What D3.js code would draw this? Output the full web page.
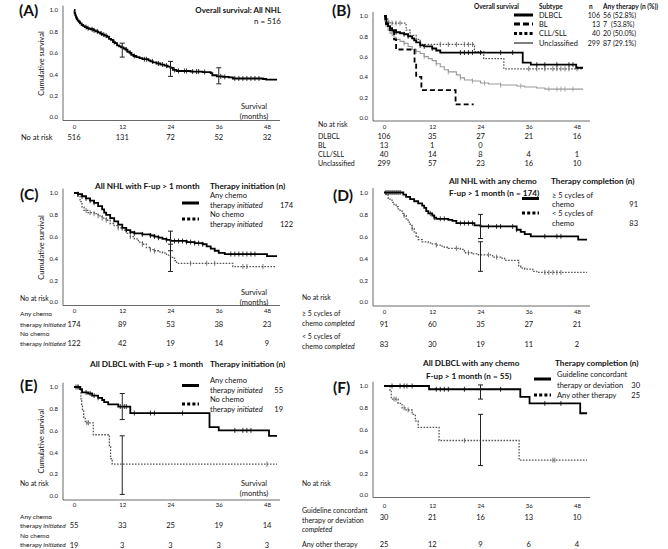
<!DOCTYPE html>
<html><head><meta charset="utf-8">
<script src="https://cdn.jsdelivr.net/npm/d3@7"></script>
<style>body{margin:0;background:#fff} text{font-family:Lato,"Open Sans",sans-serif;fill:#111}</style>
</head><body><svg id="c" width="668" height="549"></svg>
<script>
// ---------- data ----------
const months = [0,12,24,36,48];
const yTicks = [0,0.2,0.4,0.6,0.8,1.0];

// (A) All NHL
const survA = [[0,1],[0.15,0.97],[0.3,0.95],[0.5,0.93],[0.7,0.915],[0.9,0.9],[1.2,0.89],[1.5,0.875],[1.9,0.86],[2.3,0.85],[2.7,0.84],[3.2,0.83],[3.7,0.825],[4.2,0.82],[4.8,0.81],[5.4,0.80],[6,0.79],[6.5,0.78],[7,0.77],[7.6,0.76],[8.2,0.75],[8.7,0.73],[9.2,0.72],[9.7,0.70],[10.2,0.69],[10.7,0.67],[11.2,0.66],[11.7,0.65],[12.3,0.64],[12.8,0.63],[13.3,0.61],[13.8,0.60],[14.3,0.58],[14.8,0.57],[15.5,0.56],[16.3,0.55],[17,0.54],[18.5,0.53],[19,0.52],[19.6,0.51],[20.5,0.50],[21.5,0.49],[22.5,0.48],[23.3,0.47],[24,0.46],[24.6,0.44],[25.5,0.43],[29,0.425],[32,0.42],[34,0.41],[34.4,0.39],[35.5,0.38],[37,0.375],[38.5,0.37],[39.5,0.36],[47,0.355],[47.8,0.35],[50.5,0.35]];
const censA = [3,3.5,4.5,5,5.8,6.8,7.4,8,10,13,14,15,17.5,18,19.5,21,22,23,25,26,27.5,28,29.5,30.5,31,32.5,36.5,37.5,40,41,42,43,44,45,46];
const errA = [[12,0.56,0.69],[24,0.38,0.52],[36,0.31,0.46]];
const riskA = [516,131,72,52,32];

// (B) by subtype
const subtypes = ["DLBCL","BL","CLL/SLL","Unclassified"];
const subtypeN = [106,13,40,299];
const subtypeTherapy = ["56 (52.8%)","7\u2007(53.8%)","20 (50.0%)","87 (29.1%)"];
const survB_dlbcl = [[0,1],[0.3,0.97],[0.6,0.93],[1,0.90],[1.5,0.88],[2,0.86],[3,0.84],[4,0.83],[5,0.82],[6,0.80],[7,0.78],[7.5,0.76],[8,0.74],[9,0.71],[10,0.70],[12,0.68],[13,0.66],[14,0.64],[34.5,0.54],[36.5,0.52],[47.8,0.49],[49.5,0.49]];
const censB_dlbcl = [2,3,5,6,9,10,12,19,20,21,22,24,29,32,38,40,43,46,47];
const survB_bl = [[0,1],[0.5,0.92],[1.5,0.85],[2.5,0.77],[3,0.67],[7.6,0.53],[8,0.40],[9.3,0.27],[17.8,0.13],[22.3,0.13]];
const censB_bl = [];
const survB_cll = [[0,1],[0.5,0.97],[1,0.95],[1.5,0.93],[5.5,0.86],[6.5,0.81],[8,0.77],[9,0.72],[22.5,0.65],[24.8,0.58],[29.8,0.48],[49.5,0.48]];
const censB_cll = [2,3,4,14,16,18,20,21,22,36,38,40,42,43,44,45,46,48];
const survB_unc = [[0,1],[0.2,0.95],[0.5,0.90],[1,0.86],[1.5,0.83],[2,0.81],[2.5,0.79],[3,0.77],[4,0.75],[5,0.73],[6,0.70],[7,0.67],[8,0.65],[9,0.63],[10,0.60],[11,0.58],[12,0.56],[13,0.53],[14,0.50],[15,0.47],[16,0.45],[18,0.42],[19,0.39],[20,0.37],[22,0.36],[24,0.34],[26,0.33],[29,0.32],[33,0.31],[35,0.30],[38,0.29],[40,0.28],[49.5,0.28]];
const censB_unc = [5,8,10,13,16,19,22,25,29,34,41,43,44,45,47];
const riskB = [[106,35,27,21,16],[13,1,0],[40,14,8,4,1],[299,57,23,16,10]];

// (C) all NHL, therapy initiation
const survC_chemo = [[0,1],[1,0.99],[2,0.97],[3,0.95],[4,0.93],[5,0.91],[6,0.88],[7,0.85],[7.5,0.82],[8,0.80],[9,0.77],[10,0.74],[11,0.71],[12,0.68],[13,0.66],[14,0.64],[15,0.63],[17,0.62],[19,0.61],[20,0.60],[21,0.59],[22,0.58],[23,0.57],[24,0.56],[28,0.55],[30,0.54],[32,0.53],[33,0.51],[34,0.49],[35,0.47],[36,0.45],[37.5,0.44],[48,0.42],[50.5,0.42]];
const censC_chemo = [1,2,3,4,5,13,15,17,19,20,21,23,25,26,27,28,29,30,31,32,39,40,41,42,43,44,45];
const survC_none = [[0,1],[1,0.97],[1.5,0.92],[2,0.87],[2.5,0.84],[3.5,0.82],[5,0.81],[6,0.79],[7,0.77],[8,0.75],[9,0.72],[10,0.70],[11,0.68],[12,0.66],[13,0.63],[14,0.60],[15,0.58],[16,0.55],[17,0.53],[18,0.50],[19,0.48],[20,0.47],[21,0.46],[22,0.45],[23,0.43],[24,0.41],[25,0.38],[25.5,0.355],[39.5,0.325],[50,0.325]];
const censC_none = [3,4,5,6,7,8,11,14,17,19,20,29,33,35,42,43,47];
const errC = [[24,0.47,0.65],[24,0.28,0.53]];
const riskC = [[174,89,53,38,23],[122,42,19,14,9]];
const nC = [174,122];

// (D) all NHL with chemo, completion
const survD_ge5 = [[0,1],[4.8,0.98],[5.5,0.96],[6.5,0.94],[7.5,0.92],[8.5,0.90],[9.5,0.88],[10,0.86],[10.5,0.83],[11,0.81],[12,0.79],[12.5,0.77],[13,0.76],[16,0.75],[17,0.74],[18,0.72],[22.5,0.70],[24,0.69],[33,0.66],[34,0.64],[35,0.62],[36.5,0.60],[48.3,0.57],[50.5,0.57]];
const censD_ge5 = [0.5,1,1.5,2,2.5,3,3.5,4,11.5,12.5,14,15,19,20,21,22,26,28,29,32,33,40,43,44];
const survD_lt5 = [[0,1],[0.5,0.98],[1,0.95],[1.5,0.93],[2,0.91],[2.5,0.89],[3,0.87],[3.5,0.85],[4,0.83],[4.5,0.81],[5,0.79],[5.5,0.76],[6,0.73],[6.5,0.70],[7,0.67],[7.5,0.64],[8,0.60],[8.5,0.57],[9.5,0.55],[11,0.54],[12,0.53],[13,0.52],[14,0.51],[15,0.50],[16,0.49],[19,0.48],[20,0.45],[22,0.44],[23.5,0.43],[27,0.41],[29,0.40],[30,0.38],[33.5,0.33],[34,0.31],[35,0.30],[37,0.28],[38,0.27],[50.5,0.27]];
const censD_lt5 = [5,7,13,18,21,24,26,28,40,41,42,43,44];
const errD = [[24,0.58,0.80],[24,0.28,0.55]];
const riskD = [[91,60,35,27,21],[83,30,19,11,2]];
const nD = [91,83];

// (E) DLBCL, therapy initiation
const survE_chemo = [[0,1],[1.5,0.98],[2,0.95],[3.5,0.94],[4.5,0.92],[6,0.90],[7,0.88],[7.5,0.86],[8.5,0.84],[11,0.82],[14,0.76],[33.7,0.63],[36,0.60],[48.5,0.55],[50.5,0.55]];
const censE_chemo = [0.5,1,3,4,5,6,11.5,12.5,13,15,19,20,27,40,42,43,44];
const survE_none = [[0,1],[1.7,0.89],[1.9,0.83],[2.1,0.78],[2.4,0.72],[2.8,0.67],[4.8,0.56],[8.8,0.45],[9.1,0.34],[9.5,0.29],[50.5,0.29]];
const censE_none = [1,3.2,3.6,48];
const errE = [[12,0.70,0.94],[12,0.01,0.55]];
const riskE = [[55,33,25,19,14],[19,3,3,3,3]];
const nE = [55,19];

// (F) DLBCL with chemo, completion
const survF_gl = [[0,1],[11.2,0.97],[33.9,0.90],[36.2,0.84],[48.8,0.75],[50.5,0.75]];
const censF_gl = [2,4,5,5.7,7,13,14,15,16,20,29,40,44];
const survF_oth = [[0,1],[1.5,0.96],[1.8,0.88],[3.5,0.84],[4.5,0.80],[5.5,0.78],[7,0.74],[7.8,0.68],[8.5,0.62],[13.7,0.50],[33.6,0.32],[50.5,0.32]];
const censF_oth = [2.5,3,5,6,20,42,42.5];
const errF = [[24,0.88,1.01],[24,0.27,0.74]];
const riskF = [[30,21,16,13,10],[25,12,9,6,4]];
const nF = [30,25];

// ---------- drawing ----------
const svg = d3.select("#c");
const STY = {
  solid:{stroke:"#000",w:1.8,dash:null},
  dash:{stroke:"#000",w:1.8,dash:"5,3"},
  dot:{stroke:"#555",w:1.3,dash:"1.6,1.4"},
  thin:{stroke:"#999",w:1.1,dash:null}
};
const LEG = {
  solid:{stroke:"#000",w:3,dash:null},
  dash:{stroke:"#000",w:3,dash:"6,3"},
  dot:{stroke:"#000",w:3,dash:"3,2.2"},
  thin:{stroke:"#000",w:1,dash:null}
};
const TB = 8.2; // bold title size
function stepAt(data,t){let v=data[0][1];for(const d of data){if(d[0]<=t)v=d[1];}return v;}

function txt(x,y,parts,o={}){
  const t=svg.append("text").attr("x",x).attr("y",y)
    .attr("font-size",o.size||7.5).attr("text-anchor",o.anchor||"start")
    .attr("font-weight",o.bold?"bold":"normal");
  if(typeof parts==="string")parts=[[parts,false]];
  parts.forEach(p=>t.append("tspan").attr("font-style",p[1]?"italic":"normal").text(p[0]));
  return t;
}
function legLine(x1,x2,y,type){
  const s=LEG[type];
  svg.append("line").attr("x1",x1).attr("x2",x2).attr("y1",y).attr("y2",y)
    .attr("stroke",s.stroke).attr("stroke-width",s.w).attr("stroke-dasharray",s.dash);
}

function panel(p){
  const x=d3.scaleLinear().domain([0,48]).range([p.x0,p.x48]);
  const y=d3.scaleLinear().domain([0,1]).range([p.y0,p.y1]);
  const g=svg.append("g");
  g.append("line").attr("x1",p.ax).attr("x2",p.ax).attr("y1",y(1.04)).attr("y2",p.ab).attr("stroke","#444").attr("stroke-width",0.8);
  g.append("line").attr("x1",p.ax).attr("x2",p.ar).attr("y1",p.ab).attr("y2",p.ab).attr("stroke","#444").attr("stroke-width",0.8);
  const ya=g.append("g").attr("transform",`translate(${p.ax},0)`)
    .call(d3.axisLeft(y).tickValues(yTicks).tickSize(0).tickPadding(5).tickFormat(d3.format(".1f")));
  ya.select(".domain").remove();
  ya.attr("font-size",6).attr("font-family","Lato,sans-serif");
  const xa=g.append("g").attr("transform",`translate(0,${p.y0})`)
    .call(d3.axisBottom(x).tickValues(months).tickSize(0).tickPadding(p.tp).tickFormat(d3.format("d")));
  xa.select(".domain").remove();
  xa.attr("font-size",6).attr("font-family","Lato,sans-serif");
  const line=d3.line().x(d=>x(d[0])).y(d=>y(d[1])).curve(d3.curveStepAfter);
  p.series.forEach(s=>{
    const st=STY[s.type];
    g.append("path").attr("d",line(s.data)).attr("fill","none").attr("stroke",st.stroke)
      .attr("stroke-width",st.w).attr("stroke-dasharray",st.dash);
    s.cens.forEach(t=>{
      const v=stepAt(s.data,t);
      g.append("line").attr("x1",x(t)).attr("x2",x(t)).attr("y1",y(v)-2.5).attr("y2",y(v)+2.5)
        .attr("stroke",st.stroke).attr("stroke-width",0.8);
    });
  });
  (p.err||[]).forEach(e=>{
    const c="#222";
    g.append("line").attr("x1",x(e[0])).attr("x2",x(e[0])).attr("y1",y(e[1])).attr("y2",y(e[2])).attr("stroke",c).attr("stroke-width",1);
    [e[1],e[2]].forEach(v=>g.append("line").attr("x1",x(e[0])-2.5).attr("x2",x(e[0])+2.5).attr("y1",y(v)).attr("y2",y(v)).attr("stroke",c).attr("stroke-width",1));
  });
  if(p.ylab){
    svg.append("text").attr("transform",`translate(44,${y(0.5)}) rotate(-90)`).attr("text-anchor","middle")
      .attr("font-size",7.5).text("Cumulative survival");
  }
  if(p.months){
    txt(254,p.months,"Survival",{anchor:"middle"});
    txt(254,p.months+10.5,"(months)",{anchor:"middle"});
  }
  (p.risk||[]).forEach((r,i)=>{
    r.forEach((v,j)=>txt(x(months[j]),p.riskY[i],String(v),{anchor:"middle"}));
  });
  return {x,y};
}

// letters
[["(A)",19,15.5],["(B)",332,15.5],["(C)",20,200],["(D)",333,201],["(E)",20,391],["(F)",333,393]]
  .forEach(l=>txt(l[1],l[2],l[0],{size:15.5,bold:true}));

// ---- A ----
panel({x0:74,x48:267,y0:117,y1:10,ax:63,ab:120.5,ar:280,tp:8,ylab:true,months:108.5,
  series:[{data:survA,cens:censA,type:"solid"}],err:errA,risk:[riskA],riskY:[140]});
txt(281,12.5,"Overall survival: All NHL",{anchor:"end",bold:true,size:7.9});
txt(281,23.5,"n = 516",{anchor:"end",size:8});
txt(21,140,"No at risk");

// ---- B ----
panel({x0:384,x48:577,y0:117.5,y1:16,ax:373,ab:121,ar:590,tp:7.5,
  series:[{data:survB_unc,cens:censB_unc,type:"thin"},{data:survB_cll,cens:censB_cll,type:"dot"},
          {data:survB_bl,cens:censB_bl,type:"dash"},{data:survB_dlbcl,cens:censB_dlbcl,type:"solid"}],
  risk:riskB,riskY:[138.5,148,156.5,166]});
txt(474,9,"Overall survival",{bold:true,size:6.5});
txt(539,9,"Subtype",{bold:true,size:6.5});
txt(589,9,"n",{bold:true,size:6.5});
txt(603,9,"Any therapy (n (%))",{bold:true,size:6.6});
const legTypesB=["solid","dash","dot","thin"];
const legYB=[15,24,33.5,43];
subtypes.forEach((s,i)=>{
  legLine(514,533,legYB[i],legTypesB[i]);
  txt(539,legYB[i]+2.5,s,{size:7.4});
  txt(600,legYB[i]+2.5,String(subtypeN[i]),{anchor:"end",size:7});
  txt(603,legYB[i]+2.5,subtypeTherapy[i],{size:7});
});
txt(318,126.5,"No at risk",{size:7});
subtypes.forEach((s,i)=>txt(318,[138.5,147.5,156.5,165.5][i],s,{size:7}));

// ---- C ----
panel({x0:74,x48:267,y0:302,y1:193,ax:63,ab:305.5,ar:280,tp:7,ylab:true,months:294.5,
  series:[{data:survC_none,cens:censC_none,type:"dot"},{data:survC_chemo,cens:censC_chemo,type:"solid"}],
  err:errC,risk:riskC,riskY:[326.5,345.5]});
txt(95,189,"All NHL with F-up > 1 month",{bold:true,size:TB});
txt(210,189,"Therapy initiation (n)",{bold:true,size:TB});
legLine(182,199,203,"solid"); legLine(182,199,219,"dot");
txt(210,197.5,"Any chemo"); txt(210,207.5,[["therapy ",false],["initiated",true]]); txt(293,207.5,String(nC[0]),{anchor:"end"});
txt(210,216.5,"No chemo"); txt(210,226.5,[["therapy ",false],["initiated",true]]); txt(293,226.5,String(nC[1]),{anchor:"end"});
txt(20,300.5,"No at risk",{size:6.8});
const RS=6.5;
txt(20,315.5,"Any chemo",{size:RS}); txt(20,326.5,[["therapy ",false],["initiated",true]],{size:RS});
txt(20,335.5,"No chemo",{size:RS}); txt(20,345.5,[["therapy ",false],["initiated",true]],{size:RS});

// ---- D ----
panel({x0:384,x48:577,y0:302,y1:192.5,ax:373,ab:306,ar:590,tp:8,
  series:[{data:survD_lt5,cens:censD_lt5,type:"dot"},{data:survD_ge5,cens:censD_ge5,type:"solid"}],
  err:errD,risk:riskD,riskY:[326.5,346.5]});
txt(449,184,"All NHL with any chemo",{bold:true,size:TB});
txt(449,195.5,"F-up > 1 month (n = 174)",{bold:true,size:TB});
txt(551,184,"Therapy completion (n)",{bold:true,size:TB});
legLine(522,539,198.5,"solid"); legLine(522,539,213,"dot");
txt(552,197.5,"\u2265 5 cycles of"); txt(552,206.5,"chemo"); txt(638,206.5,String(nD[0]),{anchor:"end"});
txt(552,215.5,"< 5 cycles of"); txt(552,225.5,"chemo"); txt(638,225.5,String(nD[1]),{anchor:"end"});
txt(302,299.5,"No at risk",{size:6.8});
txt(302,315.5,"\u2265 5 cycles of",{size:7}); txt(302,326,[["chemo ",false],["completed",true]],{size:7});
txt(302,338.5,"< 5 cycles of",{size:7}); txt(302,348.5,[["chemo ",false],["completed",true]],{size:7});

// ---- E ----
panel({x0:74,x48:267,y0:495.5,y1:387,ax:63,ab:500,ar:280,tp:7.5,ylab:true,months:485.5,
  series:[{data:survE_none,cens:censE_none,type:"dot"},{data:survE_chemo,cens:censE_chemo,type:"solid"}],
  err:errE,risk:riskE,riskY:[527.5,547.5]});
txt(90,366.5,"All DLBCL with F-up > 1 month",{bold:true,size:TB});
txt(210,366.5,"Therapy initiation (n)",{bold:true,size:TB});
legLine(182,199,385.5,"solid"); legLine(182,199,404,"dot");
txt(210,382.5,"Any chemo"); txt(210,392.5,[["therapy ",false],["initiated",true]]); txt(283,392.5,String(nE[0]),{anchor:"end"});
txt(210,401.5,"No chemo"); txt(210,411.5,[["therapy ",false],["initiated",true]]); txt(283,411.5,String(nE[1]),{anchor:"end"});
txt(20,485.5,"No at risk",{size:6.8});
txt(20,518.5,"Any chemo",{size:RS}); txt(20,527.5,[["therapy ",false],["initiated",true]],{size:RS});
txt(20,537.5,"No chemo",{size:RS}); txt(20,547,[["therapy ",false],["initiated",true]],{size:RS});

// ---- F ----
panel({x0:384,x48:577,y0:495,y1:386,ax:373,ab:497.5,ar:590,tp:9,
  series:[{data:survF_oth,cens:censF_oth,type:"dot"},{data:survF_gl,cens:censF_gl,type:"solid"}],
  err:errF,risk:riskF,riskY:[519.5,546.5]});
txt(423,365.5,"All DLBCL with any chemo",{bold:true,size:TB});
txt(555,365.5,"Therapy completion (n)",{bold:true,size:TB});
txt(426,378.5,"F-up > 1 month (n = 55)",{bold:true,size:TB});
legLine(534,551,379,"solid"); legLine(534,551,395,"dot");
txt(557,376.5,"Guideline concordant"); txt(557,387.5,"therapy or deviation"); txt(640,387.5,String(nF[0]),{anchor:"end"});
txt(557,397.5,"Any other therapy"); txt(640,397.5,String(nF[1]),{anchor:"end"});
txt(302,485.5,"No at risk",{size:6.8});
txt(302,512.5,"Guideline concordant",{size:7}); txt(302,522.5,"therapy or deviation",{size:7});
txt(302,531.5,[["completed",true]],{size:7}); txt(302,546.5,"Any other therapy",{size:7});
</script></body></html>
